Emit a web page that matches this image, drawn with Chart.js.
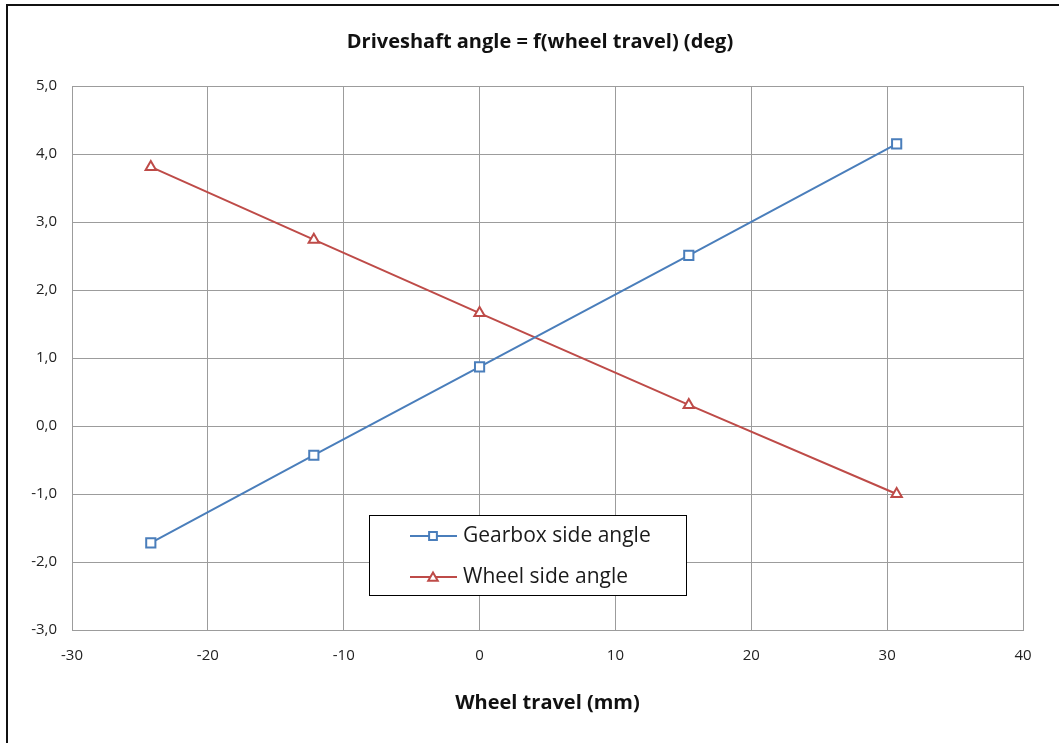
<!DOCTYPE html>
<html>
<head>
<meta charset="utf-8">
<script src="https://cdn.jsdelivr.net/npm/chart.js@4.4.0/dist/chart.umd.min.js"></script>
<style>
  html, body { margin: 0; padding: 0; background: #fff; }
  #wrap { position: relative; width: 1059px; height: 743px; }
</style>
</head>
<body>
<div id="wrap"><canvas id="chart"></canvas></div>
<script>
// Data
const travel = [-24.2, -12.2, 0, 15.4, 30.7];
const gearboxAngle = [-1.72, -0.43, 0.87, 2.51, 4.15];
const wheelAngle = [3.81, 2.74, 1.66, 0.31, -1.0];
const seriesNames = ["Gearbox side angle", "Wheel side angle"];
const chartTitle = "Driveshaft angle = f(wheel travel) (deg)";
const xTitle = "Wheel travel (mm)";

const BLUE = "#4A7EBB";
const RED = "#BE4B48";
const GRID = "#9c9c9c";
const FONT = "'Open Sans', 'Noto Sans', sans-serif";

function toPoints(xs, ys) {
  return xs.map((x, i) => ({ x: x, y: ys[i] }));
}

// same shapes chart.js uses for 'rect' and 'triangle'
function marker(ctx, style, r, x, y) {
  ctx.beginPath();
  if (style === "rect") {
    const s = Math.SQRT1_2 * r;
    ctx.rect(x - s, y - s, 2 * s, 2 * s);
  } else {
    let a = 0;
    ctx.moveTo(x + Math.sin(a) * r, y - Math.cos(a) * r);
    a += 2 * Math.PI / 3;
    ctx.lineTo(x + Math.sin(a) * r, y - Math.cos(a) * r);
    a += 2 * Math.PI / 3;
    ctx.lineTo(x + Math.sin(a) * r, y - Math.cos(a) * r);
    ctx.closePath();
  }
  ctx.fill();
  ctx.stroke();
}

// white background, frame on top/left edge, title
const framePlugin = {
  id: "frame",
  beforeDraw(chart) {
    const ctx = chart.ctx;
    ctx.save();
    ctx.fillStyle = "#fff";
    ctx.fillRect(0, 0, chart.width, chart.height);
    ctx.strokeStyle = "#111";
    ctx.lineWidth = 2;
    ctx.beginPath();
    ctx.moveTo(chart.width, 5);
    ctx.lineTo(7, 5);
    ctx.lineTo(7, chart.height);
    ctx.stroke();
    ctx.fillStyle = "#111";
    ctx.font = "bold 20px " + FONT;
    ctx.textAlign = "center";
    ctx.textBaseline = "middle";
    ctx.fillText(chartTitle, 540, 42);
    ctx.restore();
  },
};

// boxed legend sitting inside the plot area
const boxLegend = {
  id: "boxLegend",
  afterDraw(chart) {
    const ctx = chart.ctx;
    const a = chart.chartArea;
    const bx = a.left + 297, by = a.top + 429, bw = 317, bh = 80;
    ctx.save();
    ctx.fillStyle = "#fff";
    ctx.fillRect(bx, by, bw, bh);
    ctx.strokeStyle = "#000";
    ctx.lineWidth = 1;
    ctx.strokeRect(bx + 0.5, by + 0.5, bw, bh);
    ctx.font = "21px " + FONT;
    ctx.textBaseline = "middle";
    chart.data.datasets.forEach((ds, i) => {
      const y = by + 21 + i * 41;
      ctx.strokeStyle = ds.borderColor;
      ctx.lineWidth = 2;
      ctx.beginPath();
      ctx.moveTo(bx + 41, y);
      ctx.lineTo(bx + 88, y);
      ctx.stroke();
      ctx.fillStyle = "#fff";
      marker(ctx, ds.pointStyle, 5.5, bx + 64, y + (ds.pointStyle === "triangle" ? 1 : 0));
      ctx.fillStyle = "#1a1a1a";
      ctx.fillText(ds.label, bx + 94, y);
    });
    ctx.restore();
  },
};

new Chart(document.getElementById("chart"), {
  type: "line",
  data: {
    datasets: [
      {
        label: seriesNames[0],
        data: toPoints(travel, gearboxAngle),
        borderColor: BLUE,
        backgroundColor: "#fff",
        borderWidth: 2,
        pointStyle: "rect",
        pointRadius: 6.5,
        pointBorderWidth: 2,
        pointBackgroundColor: "#fff",
        pointBorderColor: BLUE,
      },
      {
        label: seriesNames[1],
        data: toPoints(travel, wheelAngle),
        borderColor: RED,
        backgroundColor: "#fff",
        borderWidth: 2,
        pointStyle: "triangle",
        pointRadius: 6,
        pointBorderWidth: 2,
        pointBackgroundColor: "#fff",
        pointBorderColor: RED,
      },
    ],
  },
  options: {
    responsive: true,
    maintainAspectRatio: false,
    animation: false,
    layout: { padding: { left: 0, right: 36, top: 86, bottom: 0 } },
    plugins: {
      legend: { display: false },
      tooltip: { enabled: false },
      title: { display: false },
    },
    scales: {
      x: {
        type: "linear",
        min: -30,
        max: 40,
        ticks: {
          stepSize: 10,
          padding: 17,
          color: "#222",
          font: { family: FONT, size: 15 },
        },
        grid: { color: GRID, drawTicks: false },
        border: { color: GRID },
        title: {
          display: true,
          text: xTitle,
          color: "#111",
          font: { family: FONT, size: 20, weight: "bold" },
          padding: { top: 4, bottom: 28 },
        },
        afterFit(scale) { scale.height = 113; },
      },
      y: {
        min: -3,
        max: 5,
        ticks: {
          stepSize: 1,
          padding: 15,
          color: "#222",
          font: { family: FONT, size: 15 },
          callback: (v) => v.toFixed(1).replace(".", ","),
        },
        grid: { color: GRID, drawTicks: false },
        border: { color: GRID },
        afterFit(scale) { scale.width = 72; },
      },
    },
  },
  plugins: [framePlugin, boxLegend],
});
</script>
</body>
</html>
